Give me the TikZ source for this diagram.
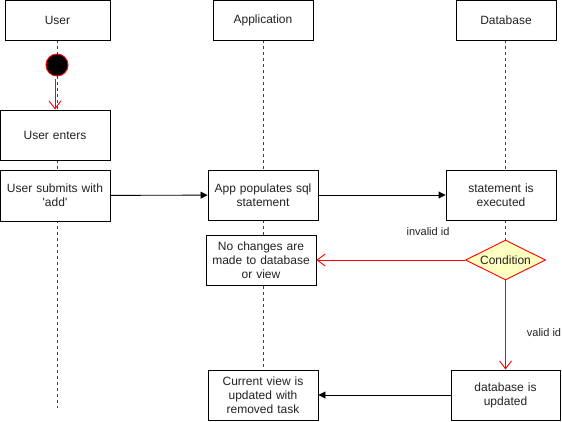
\documentclass[tikz,border=0pt]{standalone}
\usepackage{fontspec}
\setmainfont{Liberation Sans}
\usetikzlibrary{shapes.geometric,arrows.meta}
\definecolor{condfill}{HTML}{FFFFC0}
\definecolor{txt}{HTML}{222222}
\tikzset{
  box/.style={draw=black, fill=white, line width=0.9pt, minimum width=110pt, minimum height=50pt,
    align=center, text width=100pt, inner sep=0pt, font=\fontsize{12}{14}\selectfont, text=txt},
  head/.style={box, minimum width=100pt, minimum height=40pt},
  life/.style={black!75, dash pattern=on 3pt off 3pt, line width=0.9pt},
  msg/.style={draw=black, line width=0.9pt, -{Triangle[length=7pt,width=7pt]}},
  redmsg/.style={draw=red, line width=0.9pt, -{Straight Barb[length=8pt,width=12pt,line width=0.9pt]}},
  cond/.style={diamond, aspect=2, draw=red, fill=condfill, line width=0.9pt, minimum width=80pt,
    minimum height=40pt, inner sep=0pt, font=\fontsize{12}{14}\selectfont, text=txt},
  lbl/.style={font=\fontsize{11}{13}\selectfont, text=txt, inner sep=0pt}
}
\begin{document}
\begin{tikzpicture}[x=1pt,y=-1pt]
\useasboundingbox (0,0) rectangle (562,421);

% lifelines
\coordinate (uend) at (57.5,408);
\coordinate (aend) at (263,370);
\coordinate (dend) at (505.5,250);
\draw[life] (57.5,40) -- (uend);
\draw[life] (263,40) -- (aend);
\draw[life] (505.5,40) -- (dend);

% participants
\node[head, minimum width=105pt] (user) at (57.5,20) {User};
\node[head] (app) at (263,20) {Application};
\node[head] (db) at (506,20) {Database};

% start state
\node[circle, draw=red, fill=black, line width=0.9pt, minimum size=22pt, inner sep=0pt] (start) at (57,65) {};

% activities
\node[box] (enter) at (55,135) {User enters};
\node[box, minimum height=51pt] (submit) at (55,195.5) {User submits with\\\textquotesingle add\textquotesingle};
\node[box] (populate) at (263,195) {App populates sql\\statement};
\node[box] (exec) at (501,195) {statement is\\executed};
\node[cond] (cond) at (505.5,260) {Condition};
\node[box] (nochange) at (261,260) {No changes are\\made to database\\or view};
\node[box, minimum width=109pt] (dbupd) at (505.5,395) {database is\\updated};
\node[box] (view) at (263,395) {Current view is\\updated with\\removed task};

% messages
\draw[redmsg] ([yshift=-3pt]start.south -| enter.north) -- (enter.north);
\draw[msg] (submit) -- (populate);
\draw[msg] (populate) -- (exec);
\draw[redmsg] (cond) -- (nochange);
\draw[redmsg] (cond) -- (dbupd);
\draw[msg] (dbupd) -- (view);

% guard labels
\node[lbl] (invalid) at (428,232) {invalid id};
\node[lbl] (valid) at (544,333) {valid id};
\end{tikzpicture}
\end{document}
